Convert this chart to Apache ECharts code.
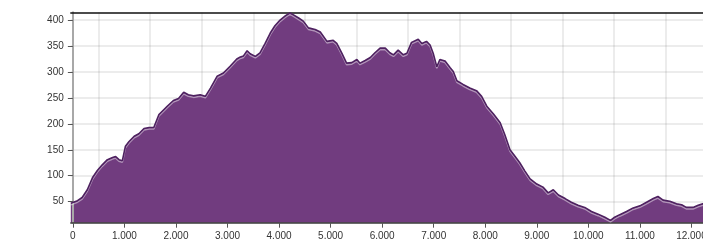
<!DOCTYPE html>
<html>
<head>
<meta charset="utf-8">
<title>Höhenprofil</title>
<script src="https://cdn.jsdelivr.net/npm/echarts@6/dist/echarts.min.js"></script>
<style>
    html, body { margin: 0; padding: 0; background: #fff; overflow: hidden; }
    /* the reference is cut off on the right, so the chart is wider than the window */
    #chart { width: 760px; height: 243px; }
</style>
</head>
<body>
<div id="chart"></div>
<script>
// distance along the route (m) and elevation (m)
var distance = [
    -40, 90, 180, 280, 380, 475, 570, 670, 770, 830,
    895, 960, 1020, 1090, 1190, 1280, 1380, 1480, 1570, 1670,
    1700, 1830, 1950, 2050, 2150, 2240, 2340, 2470, 2570, 2670,
    2800, 2920, 3050, 3180, 3250, 3310, 3380, 3440, 3540, 3630,
    3730, 3830, 3920, 4020, 4120, 4210, 4280, 4380, 4470, 4570,
    4700, 4800, 4930, 5050, 5120, 5220, 5310, 5410, 5510, 5570,
    5670, 5770, 5860, 5960, 6060, 6150, 6220, 6310, 6410, 6480,
    6570, 6700, 6770, 6860, 6930, 6990, 7060, 7120, 7220, 7320,
    7380, 7450, 7570, 7700, 7830, 7930, 8030, 8160, 8290, 8380,
    8480, 8580, 8670, 8770, 8870, 9000, 9120, 9220, 9320, 9420,
    9550, 9670, 9800, 9930, 10060, 10190, 10320, 10430, 10510, 10610,
    10740, 10870, 11000, 11130, 11260, 11350, 11450, 11580, 11710, 11810,
    11900, 12030, 12130, 12220, 12320, 12450
];
var elevation = [
    47, 52, 58, 73, 96, 110, 121, 131, 135, 137,
    131, 129, 157, 166, 176, 181, 191, 193, 193, 218,
    219, 234, 245, 249, 261, 256, 254, 256, 253, 269,
    292, 298, 311, 325, 329, 331, 341, 335, 330, 337,
    355, 375, 389, 400, 408, 414, 410, 404, 398, 385,
    382, 377, 359, 361, 355, 336, 317, 318, 324, 317,
    322, 328, 337, 346, 346, 337, 333, 342, 333, 336,
    357, 363, 355, 359, 352, 336, 310, 324, 321, 308,
    301, 283, 276, 269, 264, 253, 234, 219, 202, 179,
    150, 137, 125, 109, 94, 84, 78, 67, 73, 63,
    56, 49, 43, 39, 31, 26, 20, 14, 20, 25,
    31, 38, 42, 49, 56, 60, 53, 51, 46, 44,
    39, 39, 43, 46, 46, 46
];
var xTicks = [0, 1000, 2000, 3000, 4000, 5000, 6000, 7000, 8000, 9000, 10000, 11000, 12000];
var yTicks = [50, 100, 150, 200, 250, 300, 350, 400];

var points = distance.map(function (d, i) { return [d, elevation[i]]; });

// 1000 -> "1.000"
function fmtDist(v) {
    if (v === 0) return '0';
    var k = Math.floor(v / 1000);
    var r = String(v % 1000);
    while (r.length < 3) r = '0' + r;
    return k + '.' + r;
}

var labelFont = {
    color: '#333',
    fontSize: 10,
    fontFamily: 'Liberation Sans, Arial, sans-serif'
};

var gridLine = { color: 'rgba(0,0,0,0.1)', width: 1.5 };

var chart = echarts.init(document.getElementById('chart'), null, { renderer: 'canvas' });
chart.setOption({
    animation: false,
    grid: {
        left: 70.8,
        right: 6.7,
        top: 12.3,
        bottom: 20.3
    },
    xAxis: [
        {
            type: 'value',
            min: -40,
            max: 13200,
            splitNumber: 13,
            z: 3,
            axisLine: { show: true, onZero: false, lineStyle: { color: '#3a3a3a', width: 1.5 } },
            axisTick: { show: true, length: 5, customValues: xTicks, lineStyle: { color: '#555' } },
            axisLabel: Object.assign({
                margin: 9,
                customValues: xTicks,
                formatter: fmtDist
            }, labelFont),
            splitLine: { show: false },
            // grid lines sit halfway between the labels
            minorTick: { show: false, splitNumber: 2 },
            minorSplitLine: { show: true, lineStyle: gridLine }
        },
        {
            type: 'value',
            position: 'top',
            min: -40,
            max: 13200,
            z: 3,
            axisLine: { show: true, onZero: false, lineStyle: { color: '#111', width: 1.5 } },
            axisTick: { show: false },
            axisLabel: { show: false },
            splitLine: { show: false }
        }
    ],
    yAxis: {
        type: 'value',
        min: 9.5,
        max: 415,
        z: 3,
        axisLine: { show: true, lineStyle: { color: '#a8a8a8', width: 2 } },
        axisTick: { show: true, length: 5, customValues: yTicks, lineStyle: { color: '#555' } },
        axisLabel: Object.assign({ margin: 7, customValues: yTicks }, labelFont),
        splitLine: { show: true, lineStyle: gridLine }
    },
    series: [
        {
            type: 'line',
            xAxisIndex: 0,
            data: points,
            symbol: 'none',
            smooth: false,
            lineStyle: {
                color: '#4e2160',
                width: 1.6,
                shadowColor: 'rgba(255,255,255,0.45)',
                shadowBlur: 0,
                shadowOffsetY: 1.5
            },
            areaStyle: {
                color: '#713c7f',
                opacity: 1
            }
        }
    ]
});
</script>
</body>
</html>
